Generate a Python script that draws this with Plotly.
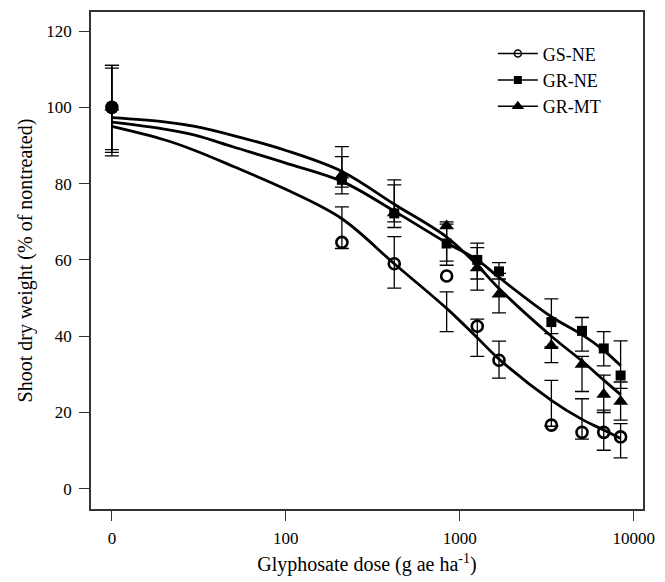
import plotly.graph_objects as go

# ---------------- data ----------------
doses = [0, 210, 420, 840, 1260, 1680, 3360, 5040, 6720, 8400]
zero_pos = 10  # position on log axis where the untreated (0) dose is drawn

gs_ne = [100, 64.6, 59.0, 55.8, 42.6, 33.7, 16.7, 14.8, 14.8, 13.6]
gr_ne = [100, 81.0, 72.2, 64.3, 60.0, 57.0, 43.7, 41.4, 36.8, 29.7]
gr_mt = [100, 82.2, 72.3, 68.9, 57.9, 51.0, 37.5, 32.6, 24.7, 22.9]

# error-bar end points (low, high)
gs_ne_lo = [88.9, 63.0, 52.6, 41.2, 34.7, 29.0, 16.4, 13.0, 10.1, 8.1]
gs_ne_hi = [111.0, 73.9, 66.1, 51.6, 44.5, 38.7, 28.4, 23.6, 20.6, 17.1]
gr_ne_lo = [88.2, 79.1, 68.5, 58.6, 55.0, 55.0, 37.2, 36.1, 32.2, 26.3]
gr_ne_hi = [110.3, 87.1, 79.7, 69.4, 64.4, 59.3, 49.8, 44.9, 41.2, 38.8]
gr_mt_lo = [87.3, 77.3, 70.0, 59.7, 52.1, 46.1, 33.1, 25.5, 20.0, 18.0]
gr_mt_hi = [111.0, 89.7, 81.0, 70.0, 63.2, 56.5, 40.7, 34.7, 29.8, 28.0]

# fitted curves
curve_x = [10, 20, 30, 50, 100, 210, 420, 840, 1260, 1680, 3360, 5040, 6720, 8400]
gs_ne_curve = [95.0, 91.5, 88.7, 84.5, 78.5, 70.8, 59.0, 47.3, 39.6, 34.0, 23.2, 18.2, 15.4, 13.2]
gr_ne_curve = [96.1, 94.3, 92.7, 89.6, 85.4, 80.6, 72.8, 64.5, 60.0, 55.4, 45.1, 40.4, 36.3, 32.3]
gr_mt_curve = [97.3, 96.2, 95.0, 92.6, 88.7, 83.2, 74.6, 66.0, 58.6, 52.5, 40.0, 33.5, 28.5, 24.7]

tick_vals = [10, 100, 1000, 10000]
tick_text = ["0", "100", "1000", "10000"]

# ---------------- figure ----------------
px_x = [d if d > 0 else zero_pos for d in doses]
FONT = "Liberation Serif, Times New Roman, serif"

series = [
    ("GS-NE", gs_ne, gs_ne_lo, gs_ne_hi, gs_ne_curve,
     dict(symbol="circle-open", size=11, color="black", line=dict(width=2.6, color="black")),
     dict(symbol="circle-open", size=7, color="black", line=dict(width=1.5, color="black"))),
    ("GR-NE", gr_ne, gr_ne_lo, gr_ne_hi, gr_ne_curve,
     dict(symbol="square", size=10, color="black", line=dict(width=0)),
     dict(symbol="square", size=8, color="black", line=dict(width=0))),
    ("GR-MT", gr_mt, gr_mt_lo, gr_mt_hi, gr_mt_curve,
     dict(symbol="triangle-up", size=13, color="black", line=dict(width=0)),
     dict(symbol="triangle-up", size=11, color="black", line=dict(width=0))),
]

fig = go.Figure()

# error bars
for name, y, lo, hi, cy, mk, lmk in series:
    centers = [(a + b) / 2 for a, b in zip(lo, hi)]
    halves = [(b - a) / 2 for a, b in zip(lo, hi)]
    fig.add_trace(go.Scatter(
        x=px_x, y=centers, mode="markers",
        marker=dict(size=1, color="rgba(0,0,0,0)"),
        error_y=dict(type="data", array=halves, symmetric=True,
                     color="black", thickness=1.3, width=7),
        showlegend=False, hoverinfo="skip"))

# curves
for name, y, lo, hi, cy, mk, lmk in series:
    fig.add_trace(go.Scatter(
        x=curve_x, y=cy, mode="lines",
        line=dict(color="black", width=2.8, shape="spline", smoothing=1.0),
        showlegend=False, hoverinfo="skip"))

# markers
for name, y, lo, hi, cy, mk, lmk in series:
    fig.add_trace(go.Scatter(
        x=px_x, y=y, mode="markers", marker=mk, name=name, showlegend=False))

# legend entries
for name, y, lo, hi, cy, mk, lmk in series:
    fig.add_trace(go.Scatter(
        x=[None], y=[None], mode="lines+markers", name=name,
        line=dict(color="black", width=1.5), marker=lmk))

axis_common = dict(
    showline=True, linecolor="#333333", linewidth=1.5, mirror=True,
    ticks="outside", ticklen=10, tickwidth=1.2, tickcolor="#333333",
    showgrid=False, zeroline=False,
    tickfont=dict(family=FONT, size=17, color="black"),
)

fig.update_layout(
    width=665, height=582,
    margin=dict(l=91, r=14, t=10, b=72),
    paper_bgcolor="white", plot_bgcolor="white",
    font=dict(family=FONT, size=18, color="black"),
    xaxis=dict(type="log", range=[0.88, 4.053], tickvals=tick_vals, ticktext=tick_text,
               ticklabelstandoff=3,
               title=dict(text="Glyphosate dose (g ae ha<sup>-1</sup>)",
                          font=dict(family=FONT, size=20), standoff=10),
               **axis_common),
    yaxis=dict(range=[-5.3, 125], tickvals=[0, 20, 40, 60, 80, 100, 120],
               ticklabelstandoff=4,
               title=dict(text="Shoot dry weight (% of nontreated)",
                          font=dict(family=FONT, size=20), standoff=8),
               **axis_common),
    legend=dict(x=0.728, y=0.953, xanchor="left", yanchor="top",
                bgcolor="rgba(0,0,0,0)", borderwidth=0,
                font=dict(family=FONT, size=18), tracegroupgap=0, itemwidth=40),
)

fig.write_html("out.html",
               config={"displayModeBar": False},
               post_script="document.body.style.margin='0';document.body.style.overflow='hidden';")
